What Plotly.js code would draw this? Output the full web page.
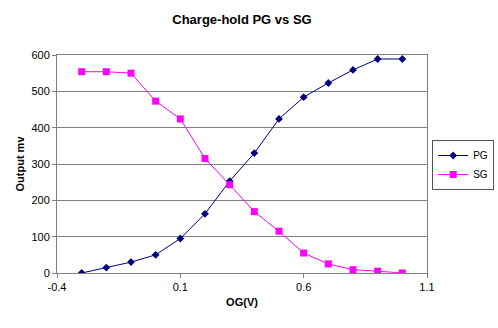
<!DOCTYPE html>
<html><head><meta charset="utf-8">
<script src="https://cdn.plot.ly/plotly-3.0.1.min.js"></script>
<style>html,body{margin:0;padding:0;background:#fff}#c{width:498px;height:328px}</style>
</head><body><div id="c"></div>
<script>
const og = [-0.3,-0.2,-0.1,0.0,0.1,0.2,0.3,0.4,0.5,0.6,0.7,0.8,0.9,1.0];
const pg = [0,15,30,50,95,163,253,330,424,484,523,559,589,589];
const sg = [554,554,550,473,424,315,243,169,115,55,25,9,5,0];
const xTicks = [-0.4,0.1,0.6,1.1];
const font = 'Liberation Sans, Arial, sans-serif';
const data = [
  {x:og,y:pg,name:'PG',mode:'lines+markers',line:{color:'#000080',width:1},marker:{symbol:'diamond',size:6,color:'#000080'}},
  {x:og,y:sg,name:'SG',mode:'lines+markers',line:{color:'#FF00FF',width:1},marker:{symbol:'square',size:7,color:'#FF00FF'}}
];
const layout = {
  width:498,height:328,margin:{l:57,r:71,t:55,b:55,autoexpand:false},
  paper_bgcolor:'#fff',plot_bgcolor:'#fff',
  font:{family:font,size:11,color:'#000'},
  title:{text:'<b>Charge-hold PG vs SG</b>',x:0.5,xref:'paper',y:0.94,yanchor:'middle',font:{size:13,family:font}},
  xaxis:{range:[-0.4,1.1],tickvals:xTicks,ticktext:xTicks.map(String),showgrid:false,zeroline:false,
    showline:true,linecolor:'#808080',mirror:true,ticks:'outside',ticklen:4,tickcolor:'#808080',
    title:{text:'<b>OG(V)</b>',font:{size:11},standoff:6}},
  yaxis:{range:[0,600],dtick:100,showgrid:true,gridcolor:'#808080',gridwidth:1,zeroline:false,
    showline:true,linecolor:'#808080',mirror:true,ticks:'outside',ticklen:4,tickcolor:'#808080',
    title:{text:'<b>Output mv</b>',font:{size:11},standoff:4}},
  legend:{x:1.014,y:0.61,xanchor:'left',yanchor:'top',bordercolor:'#555',borderwidth:1,bgcolor:'#fff',
    font:{size:10},tracegroupgap:0,itemwidth:30},
  showlegend:true
};
Plotly.newPlot('c',data,layout,{displayModeBar:false,staticPlot:true});
</script></body></html>
